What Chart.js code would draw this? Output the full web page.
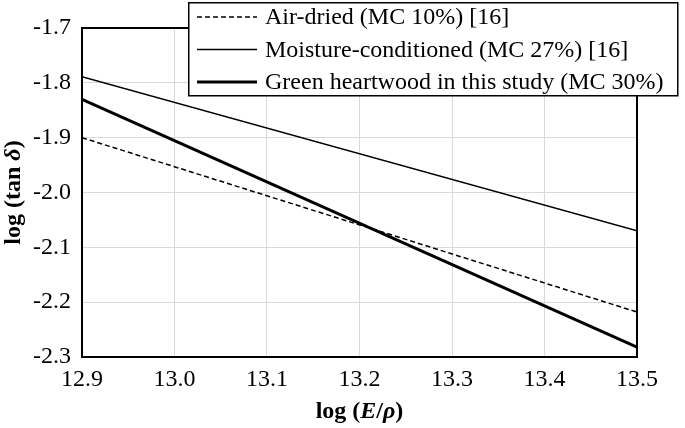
<!DOCTYPE html>
<html>
<head>
<meta charset="utf-8">
<script src="https://cdn.jsdelivr.net/npm/chart.js@4/dist/chart.umd.min.js"></script>
<style>html,body{margin:0;padding:0;background:#fff}</style>
</head>
<body>
<canvas id="c" width="685" height="428"></canvas>
<script>
const xValues = [12.9, 13.5];
const airDried = [-1.90, -2.218];
const moistureConditioned = [-1.789, -2.07];
const greenHeartwood = [-1.83, -2.282];
const seriesNames = [
  "Air-dried (MC 10%) [16]",
  "Moisture-conditioned (MC 27%) [16]",
  "Green heartwood in this study (MC 30%)"
];
const xTicks = [12.9, 13.0, 13.1, 13.2, 13.3, 13.4, 13.5];
const yTicks = [-1.7, -1.8, -1.9, -2.0, -2.1, -2.2, -2.3];
const xTitleParts = [["log (", false], ["E", true], ["/", false], ["ρ", true], [")", false]];
const yTitleParts = [["log (tan ", false], ["δ", true], [")", false]];

const FAM = '"Liberation Serif", "Times New Roman", serif';
Chart.defaults.font.family = 'Liberation Serif';

const toPts = arr => arr.map((v, i) => ({ x: xValues[i], y: v }));

const styles = [
  { width: 1.5, dash: [5, 3] },
  { width: 1.5, dash: [] },
  { width: 3, dash: [] }
];
const seriesData = [airDried, moistureConditioned, greenHeartwood];

const datasets = seriesData.map((d, i) => ({
  label: seriesNames[i],
  data: toPts(d),
  borderColor: '#000',
  borderWidth: styles[i].width,
  borderDash: styles[i].dash,
  pointRadius: 0,
  fill: false,
  tension: 0
}));

function drawParts(ctx, parts, cx, cy) {
  const fontFor = it => (it ? 'italic ' : '') + 'bold 24px ' + FAM;
  let total = 0;
  parts.forEach(([t, it]) => { ctx.font = fontFor(it); total += ctx.measureText(t).width; });
  let x = cx - total / 2;
  ctx.textAlign = 'left';
  ctx.textBaseline = 'middle';
  parts.forEach(([t, it]) => {
    ctx.font = fontFor(it);
    ctx.fillText(t, x, cy);
    x += ctx.measureText(t).width;
  });
}

const decor = {
  id: 'decor',
  afterDatasetsDraw(chart) {
    const a = chart.chartArea;
    const ctx = chart.ctx;
    ctx.save();
    ctx.strokeStyle = '#000';
    ctx.lineWidth = 2;
    ctx.setLineDash([]);
    ctx.strokeRect(a.left, a.top, a.right - a.left, a.bottom - a.top);
    ctx.restore();
  },
  afterDraw(chart) {
    const a = chart.chartArea;
    const ctx = chart.ctx;
    ctx.save();
    // legend box
    ctx.fillStyle = '#fff';
    ctx.fillRect(188, 2, 490, 94);
    ctx.strokeStyle = '#000';
    ctx.lineWidth = 1.5;
    ctx.setLineDash([]);
    ctx.strokeRect(188.75, 2.75, 489, 93);
    const rows = [17, 49.5, 82];
    seriesNames.forEach((name, i) => {
      ctx.beginPath();
      ctx.lineWidth = styles[i].width;
      ctx.setLineDash(styles[i].dash);
      ctx.moveTo(197, rows[i]);
      ctx.lineTo(257, rows[i]);
      ctx.stroke();
      ctx.setLineDash([]);
      ctx.fillStyle = '#000';
      ctx.font = '24px ' + FAM;
      ctx.textAlign = 'left';
      ctx.textBaseline = 'middle';
      ctx.fillText(name, 265, rows[i] + 1);
    });
    // axis titles
    ctx.fillStyle = '#000';
    drawParts(ctx, xTitleParts, (a.left + a.right) / 2, 412);
    ctx.translate(14, (a.top + a.bottom) / 2);
    ctx.rotate(-Math.PI / 2);
    drawParts(ctx, yTitleParts, 0, 0);
    ctx.restore();
  }
};

const chart = new Chart(document.getElementById('c'), {
  type: 'line',
  data: { datasets },
  options: {
    responsive: false,
    animation: false,
    layout: { padding: { left: 0, top: 28, right: 48, bottom: 0 } },
    plugins: { legend: { display: false }, tooltip: { enabled: false } },
    scales: {
      x: {
        type: 'linear',
        min: xTicks[0],
        max: xTicks[xTicks.length - 1],
        afterBuildTicks(scale) { scale.ticks = xTicks.map(v => ({ value: v })); },
        afterFit(scale) { scale.height = 71; },
        grid: { color: '#d9d9d9', lineWidth: 1, drawTicks: false },
        border: { display: false },
        ticks: {
          padding: 8,
          color: '#000',
          font: { family: 'Liberation Serif', size: 24 },
          callback: v => Number(v).toFixed(1)
        }
      },
      y: {
        type: 'linear',
        min: -2.3,
        max: -1.7,
        afterBuildTicks(scale) { scale.ticks = yTicks.map(v => ({ value: v })); },
        afterFit(scale) { scale.width = 82; },
        grid: { color: '#d9d9d9', lineWidth: 1, drawTicks: false },
        border: { display: false },
        ticks: {
          padding: 11,
          color: '#000',
          font: { family: 'Liberation Serif', size: 24 },
          callback: v => Number(v).toFixed(1)
        }
      }
    }
  },
  plugins: [decor]
});
</script>
</body>
</html>
